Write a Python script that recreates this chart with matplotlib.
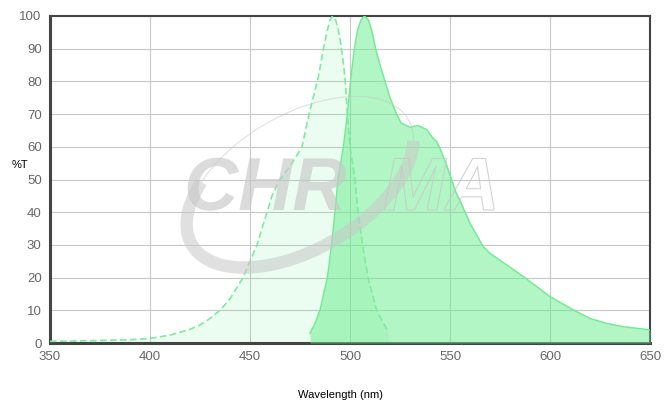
import numpy as np
import matplotlib
matplotlib.use('Agg')
import matplotlib.pyplot as plt
from matplotlib.patches import Arc, PathPatch
from matplotlib.textpath import TextPath
from matplotlib.font_manager import FontProperties
from matplotlib.transforms import IdentityTransform, Affine2D

plt.rcParams['font.family'] = ['Liberation Sans', 'DejaVu Sans']

# excitation spectrum (dashed)
ex_nm = [350, 370, 390, 400, 410, 420, 425, 430, 435, 440, 446.5, 450, 453.5, 456,
         458.5, 461, 465, 470, 473, 476, 479.5, 484.2, 486.7, 488.7, 490, 491.3,
         492.8, 494.2, 495.8, 497.5, 498.7, 500, 502.5, 504, 506.3, 509, 513.3, 519]
ex_t = [0.5, 0.7, 1.0, 1.4, 2.4, 4.2, 5.5, 7.5, 10, 13.5, 20, 25, 30, 35,
        40, 45, 50, 54, 57, 60, 70, 81.4, 90, 95.7, 98.8, 100,
        98.8, 95.7, 90, 81.4, 70, 60, 50, 40, 30, 20, 10, 3.5]

# emission spectrum (solid)
em_nm = [480, 482.5, 485, 488.7, 490.8, 492.5, 494, 496.7, 498.7, 500.5, 502.2, 503.8,
         505.5, 507.2, 509.2, 510.8, 512.8, 515, 517.5, 520, 523.3, 525.5, 530, 534, 536.5,
         538.3, 541, 543.3, 545, 548.3, 550, 553, 555, 560, 566.7, 570, 578.3, 586.7,
         600, 611.7, 620, 628.3, 636.7, 650]
em_t = [3, 6, 10, 20, 30, 40, 50, 60, 70, 81.4, 90, 95.7,
        98.8, 100, 98.8, 95.7, 90, 85, 80, 75, 70, 67.3, 66, 66.5, 65.8,
        65.3, 63, 61.6, 59.5, 54.4, 51.4, 46, 43.5, 36.6, 29.4, 27.4, 23.9, 20.3,
        14.2, 10.1, 7.5, 6, 5, 4]

fig = plt.figure(figsize=(6.67, 4.07), dpi=100)
ax = fig.add_axes([50 / 667, (407 - 343) / 407, 600 / 667, 327 / 407])

green = '#66ee8c'
ax.fill_between(ex_nm, ex_t, 0, color=green, alpha=0.13, lw=0, zorder=2)
ax.plot(ex_nm, ex_t, color='#7deb9c', lw=1.2, ls=(0, (4, 2)), zorder=4)
ax.fill_between(em_nm, em_t, 0, color=green, alpha=0.5, lw=0, zorder=3)
ax.plot(em_nm, em_t, color='#74ea96', lw=1.1, zorder=4)

# watermark
wm = '#c8c8c8'
fp = FontProperties(family='Liberation Sans', weight='bold', style='italic')
chr_path = TextPath((0, 0), 'CHR', size=75, prop=fp)
ma_path = TextPath((0, 0), 'MA', size=75, prop=fp)
fig.add_artist(PathPatch(chr_path, transform=Affine2D().translate(184, 197),
                         fc=wm, ec='none', alpha=0.65, zorder=5))
fig.add_artist(PathPatch(ma_path, transform=Affine2D().translate(383, 197),
                         fc='none', ec=wm, lw=0.8, alpha=0.8, zorder=5))
arc_kw = dict(transform=IdentityTransform(), color=wm, alpha=0.55, zorder=5)
fig.add_artist(Arc((300, 225), 250, 135, angle=30, theta1=150, theta2=350, lw=9, **arc_kw))
fig.add_artist(Arc((300, 225), 250, 135, angle=30, theta1=-10, theta2=150, lw=0.8, **arc_kw))

ax.set_xlim(350, 650)
ax.set_ylim(0, 100)
ax.set_xticks(np.arange(350, 651, 50))
ax.set_yticks(np.arange(0, 101, 10))
ax.grid(True, color='#c8c8c8', lw=0.8, zorder=0)
ax.set_axisbelow(True)
ax.tick_params(length=0, pad=6, labelsize=9.5, labelcolor='#666666')
for s in ['left', 'bottom']:
    ax.spines[s].set_linewidth(2.2)
    ax.spines[s].set_color('#444444')
for s in ['top', 'right']:
    ax.spines[s].set_linewidth(1.5)
    ax.spines[s].set_color('#444444')

fig.text(20 / 667, 1 - 165 / 407, '%T', fontsize=8, ha='center', va='center')
fig.text(340 / 667, 1 - 395 / 407, 'Wavelength (nm)', fontsize=8, ha='center', va='center')

fig.savefig('out.png', dpi=100)
